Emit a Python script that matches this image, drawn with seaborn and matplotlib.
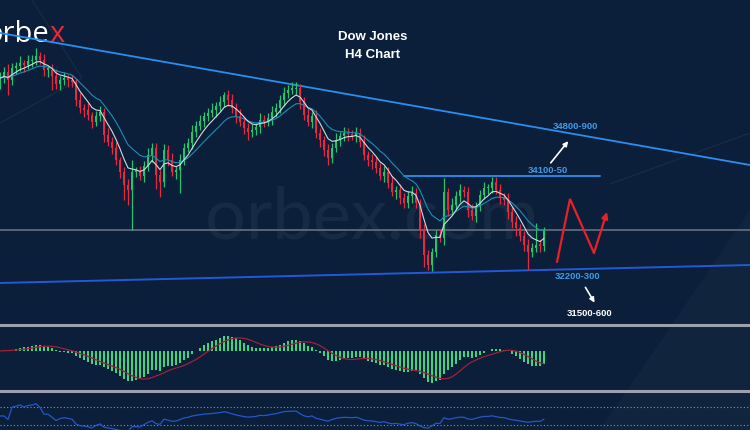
import numpy as np
import pandas as pd
import matplotlib
matplotlib.use("Agg")
import matplotlib.pyplot as plt
import seaborn as sns
from matplotlib.patches import Polygon

# ---------------- data ----------------
first_open = 36050
closes = [36120, 36250, 36080, 36330, 36370, 36430, 36390, 36470, 36490, 36570,
          36490, 36290, 36290, 36170, 36000, 36080, 36120, 36080, 36040, 35680,
          35510, 35470, 35370, 35230, 35350, 35430, 34960, 34820, 34700, 34450,
          34210, 33940, 33840, 34210, 34210, 34130, 34330, 34550, 34700, 34150,
          34000, 34660, 34450, 34210, 34250, 34450, 34700, 34800, 35020, 35150,
          35250, 35350, 35410, 35470, 35550, 35630, 35780, 35680, 35510, 35350,
          35230, 35100, 35020, 35060, 35120, 35270, 35230, 35310, 35430, 35510,
          35680, 35820, 35880, 35900, 35920, 35630, 35370, 35230, 35350, 35000,
          34860, 34660, 34490, 34700, 34860, 34940, 35000, 34980, 34940, 35000,
          34820, 34550, 34450, 34410, 34290, 34130, 34210, 33980, 33800, 33840,
          33680, 33570, 33720, 33780, 33570, 33020, 32510, 32310, 32570, 32920,
          32860, 33800, 33430, 33530, 33720, 33840, 33800, 33430, 33310, 33510,
          33740, 33880, 33880, 34000, 33840, 33680, 33640, 33390, 33190, 33060,
          32900, 32720, 32570, 32660, 32720, 32700, 33020]
upper_wicks = [120, 90, 150, 100, 80, 140, 70, 120, 100, 160,
               90, 130, 70, 110, 140, 90, 120, 70, 110, 90,
               130, 90, 140, 70, 110, 130, 90, 150, 100, 120,
               70, 90, 120, 245, 90, 120, 100, 140, 90, 100,
               100, 120, 90, 140, 70, 120, 100, 90, 140, 100,
               120, 90, 100, 140, 90, 120, 60, 90, 120, 100,
               140, 90, 100, 120, 90, 140, 100, 90, 120, 100,
               90, 120, 100, 140, 120, 90, 100, 140, 90, 120,
               100, 90, 120, 100, 140, 90, 120, 100, 90, 120,
               100, 140, 90, 120, 100, 90, 120, 100, 140, 90,
               120, 100, 90, 140, 100, 90, 120, 100, 90, 100,
               120, 285, 90, 140, 100, 120, 90, 100, 120, 90,
               100, 120, 90, 100, 100, 120, 90, 140, 100, 120,
               90, 100, 120, 90, 450, 100, 60]
lower_wicks = [150, 100, 300, 90, 120, 100, 140, 90, 120, 100,
               90, 120, 140, 300, 100, 120, 90, 140, 100, 120,
               90, 140, 100, 120, 90, 100, 140, 90, 120, 100,
               120, 306, 300, 816, 100, 90, 120, 100, 140, 300,
               306, 100, 120, 90, 140, 470, 100, 90, 120, 100,
               90, 120, 100, 90, 140, 100, 90, 120, 100, 140,
               90, 120, 160, 100, 90, 120, 100, 90, 140, 100,
               90, 120, 100, 90, 120, 140, 100, 90, 120, 100,
               140, 120, 150, 100, 90, 120, 100, 140, 90, 120,
               100, 90, 120, 140, 100, 90, 120, 100, 90, 140,
               120, 100, 90, 140, 100, 150, 250, 100, 120, 100,
               90, 150, 120, 100, 90, 120, 100, 140, 90, 120,
               100, 90, 120, 100, 90, 120, 100, 140, 120, 150,
               100, 120, 367, 100, 90, 120, 100]

title_lines = ["Dow Jones", "H4 Chart"]
level_labels = ["34800-900", "34100-50", "32200-300", "31500-600"]
label_idx = [143.75, 137.0, 144.5, 147.5]
label_price = [35125, 34227, 32065, 31310]

upper_trend_idx = [0, 187.5]
upper_trend_price = [37042, 34349]
lower_trend_idx = [0, 187.5]
lower_trend_price = [31942, 32309]
resist_idx = [101, 150]
resist_price = [34125, 34125]
zigzag_idx = [139.25, 142.5, 148.5, 151.75]
zigzag_price = [32371, 33656, 32554, 33391]
up_arrow_idx = [137.25, 142.5]
up_arrow_price = [34349, 34880]
down_arrow_idx = [146.0, 149.0]
down_arrow_price = [31901, 31493]

# ---------------- derived table ----------------
n = len(closes)
opens = [first_open] + closes[:-1]
df = pd.DataFrame({"i": np.arange(n), "open": opens, "close": closes,
                   "up": upper_wicks, "lo": lower_wicks})
df["top"] = df[["open", "close"]].max(axis=1)
df["bot"] = df[["open", "close"]].min(axis=1)
df["high"] = df["top"] + df["up"]
df["low"] = df["bot"] - df["lo"]
df["bull"] = df["close"] >= df["open"]
df["ma_fast"] = df["close"].ewm(span=6, adjust=False).mean()
df["ma_slow"] = df["close"].ewm(span=13, adjust=False).mean()
ema_f = df["close"].ewm(span=10, adjust=False).mean()
ema_s = df["close"].ewm(span=22, adjust=False).mean()
df["macd"] = ema_f - ema_s
df["signal"] = df["macd"].rolling(7, min_periods=1).mean()
delta = df["close"].diff().fillna(0)
gain = delta.clip(lower=0).ewm(alpha=1 / 24, adjust=False).mean()
loss = (-delta.clip(upper=0)).ewm(alpha=1 / 24, adjust=False).mean()
df["rsi"] = (100 - 100 / (1 + gain / loss.replace(0, np.nan))).fillna(50)

# ---------------- style ----------------
BG = "#0b1f3a"
GREEN = "#22c46c"
RED = "#e8283c"
sns.set_theme(style="dark", rc={"axes.facecolor": BG, "figure.facecolor": BG,
                                "savefig.facecolor": BG})
plt.rcParams["font.family"] = ["Liberation Sans", "DejaVu Sans"]

W, H = 750, 430
fig = plt.figure(figsize=(7.5, 4.3), dpi=100)

# background / decoration layer in pixel coordinates
bg = fig.add_axes([0, 0, 1, 1], zorder=0)
bg.set_xlim(0, W)
bg.set_ylim(H, 0)
bg.axis("off")
bg.add_patch(Polygon([[600, 430], [750, 210], [750, 430]], closed=True,
                     facecolor="white", alpha=0.025, lw=0))
bg.plot([0, 82, 32], [123, 78, 0], color="white", alpha=0.05, lw=1)
bg.plot([610, 750], [184, 133], color="white", alpha=0.05, lw=1)
bg.text(372, 218, "orbex.com", fontsize=52, color="white", alpha=0.05,
        ha="center", va="center", family=["Lato", "DejaVu Sans"])
bg.text(49, 35, "orbe", fontsize=21, color="white", ha="right", va="center",
        family=["Open Sans", "DejaVu Sans"])
bg.text(49, 35, "x", fontsize=21, color="#e8283c", ha="left", va="center",
        family=["Open Sans", "DejaVu Sans"])
bg.text(373, 37, title_lines[0], fontsize=9.5, fontweight="bold", color="white",
        ha="center", va="center")
bg.text(373, 55, title_lines[1], fontsize=9.5, fontweight="bold", color="white",
        ha="center", va="center")
for yy in (325, 391):
    bg.axhline(yy, color="#9aa1ad", lw=2.2)

# ---------------- main price panel ----------------
XMAX = 187.5
ax = fig.add_axes([0, 105 / H, 1, 325 / H], zorder=2)
ax.patch.set_alpha(0)
ax.set_xlim(0, XMAX)
ax.set_ylim(31085, 37715)
ax.axis("off")

ax.axhline(df["close"].iloc[-1], color="#5f6a7b", lw=1.3, zorder=1)
ax.plot(upper_trend_idx, upper_trend_price, color="#2a8ef0", lw=1.3, zorder=2)
ax.plot(lower_trend_idx, lower_trend_price, color="#2259d8", lw=1.4, zorder=2)
ax.plot(resist_idx, resist_price, color="#2a8ef0", lw=1.3, zorder=2)

colors = np.where(df["bull"], GREEN, RED)
ax.vlines(df["i"], df["low"], df["high"], colors=colors, lw=0.9, zorder=3)
ax.bar(df["i"], np.maximum(df["top"] - df["bot"], 30), bottom=df["bot"],
       width=0.72, color=colors, linewidth=0, zorder=4)
sns.lineplot(data=df, x="i", y="ma_slow", ax=ax, color="#1b8fb5", lw=0.8, zorder=5)
sns.lineplot(data=df, x="i", y="ma_fast", ax=ax, color="#d5d9e0", lw=0.8, zorder=6)
ax.axis("off")

lab_colors = ["#3d9be9", "#3d9be9", "#3d9be9", "white"]
for t, xi, yp, c in zip(level_labels, label_idx, label_price, lab_colors):
    ax.text(xi, yp, t, color=c, fontsize=6.8, fontweight="bold",
            ha="center", va="center", zorder=8)

ax.annotate("", xy=(up_arrow_idx[1], up_arrow_price[1]),
            xytext=(up_arrow_idx[0], up_arrow_price[0]),
            arrowprops=dict(arrowstyle="-|>", color="white", lw=1.2,
                            mutation_scale=7), zorder=8)
ax.annotate("", xy=(down_arrow_idx[1], down_arrow_price[1]),
            xytext=(down_arrow_idx[0], down_arrow_price[0]),
            arrowprops=dict(arrowstyle="-|>", color="white", lw=1.2,
                            mutation_scale=7), zorder=8)
ax.plot(zigzag_idx[:3], zigzag_price[:3], color="#e8202a", lw=1.6, zorder=8,
        solid_joinstyle="miter")
ax.annotate("", xy=(zigzag_idx[3], zigzag_price[3]),
            xytext=(zigzag_idx[2], zigzag_price[2]),
            arrowprops=dict(arrowstyle="-|>", color="#e8202a", lw=1.6,
                            mutation_scale=9, shrinkA=0, shrinkB=0), zorder=8)

# ---------------- MACD panel ----------------
mx = fig.add_axes([0, 40 / H, 1, 64 / H], zorder=2)
mx.patch.set_alpha(0)
mx.set_xlim(0, XMAX)
k = max(abs(df["macd"].min()) / 32, df["macd"].max() / 22)
mx.set_ylim(-39 * k, 25 * k)
mx.bar(df["i"], df["macd"], width=0.7, color="#3ad77e", linewidth=0)
sns.lineplot(data=df, x="i", y="signal", ax=mx, color="#a31f38", lw=0.9)
mx.axis("off")

# ---------------- RSI panel ----------------
rx = fig.add_axes([0, 0, 1, 38 / H], zorder=2)
rx.patch.set_alpha(0)
rx.set_xlim(0, XMAX)
rx.set_ylim(19, 103)
for lvl in (70, 30):
    rx.axhline(lvl, color="#8a93a0", lw=0.8, linestyle=(0, (1, 2)))
sns.lineplot(data=df, x="i", y="rsi", ax=rx, color="#2457c9", lw=0.9)
rx.axis("off")

fig.savefig("out.png", dpi=100)
